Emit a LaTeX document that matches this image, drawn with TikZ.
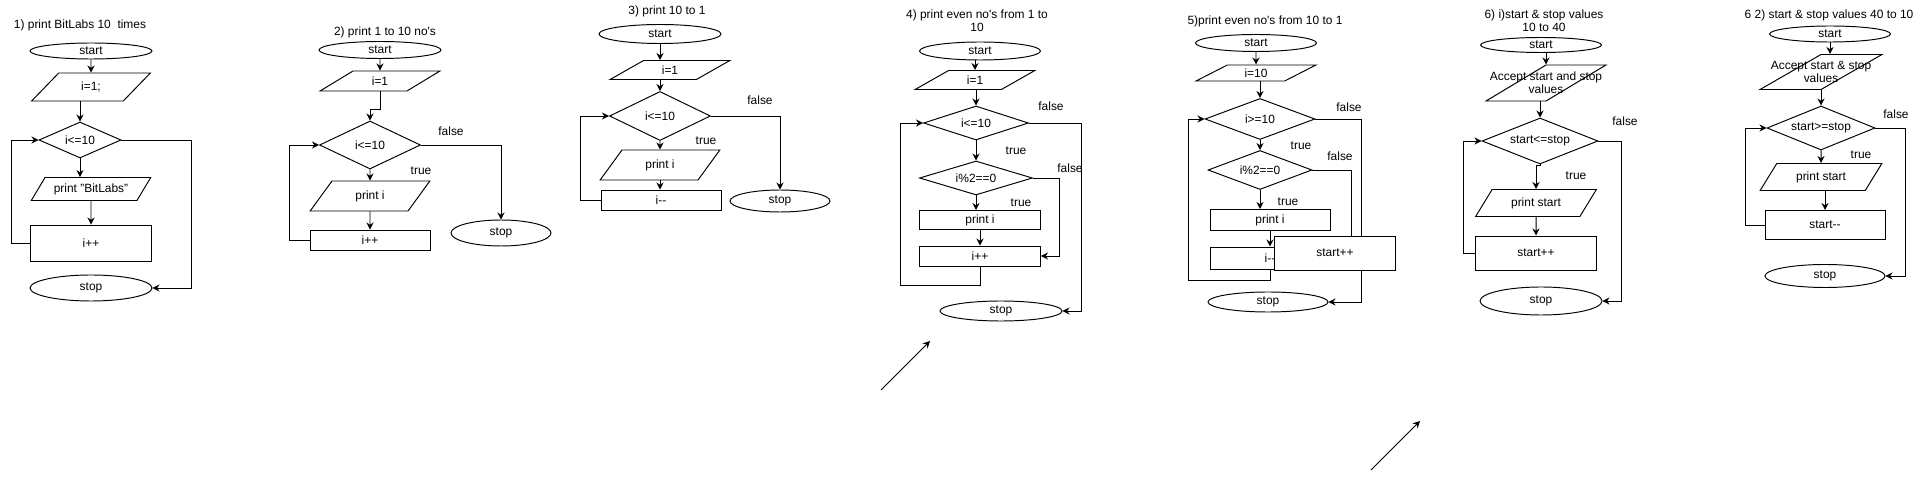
\documentclass[tikz,border=0pt]{standalone}
\usepackage{fontspec}
\setmainfont{Liberation Sans}
\usetikzlibrary{shapes.geometric, arrows.meta, positioning}

\begin{document}
\begin{tikzpicture}[x=0.02cm, y=-0.02cm, line width=0.55pt, >={Stealth[length=4pt,width=4pt]},
  font=\fontsize{6.8}{7.4}\selectfont,
  term/.style={ellipse, draw, inner sep=0pt},
  io/.style 2 args={trapezium, trapezium left angle=#1, trapezium right angle=#2, trapezium stretches=true, draw, inner sep=0pt},
  box/.style={rectangle, draw, inner sep=0pt},
  dec/.style={diamond, draw, aspect=2, inner sep=0pt},
  lbl/.style={inner sep=0pt, align=center}]
\useasboundingbox (0,0) rectangle (1931,479);

\node[lbl] (t1) at (80,25) {1) print BitLabs 10\ \ times};
\node[term, minimum width=2.44cm, minimum height=0.32cm] (s1) at (91,51) {start};
\node[io={51}{129}, minimum width=2.38cm, minimum height=0.56cm] (p1) at (91,87) {i=1;};
\node[dec, minimum width=1.64cm, minimum height=0.72cm] (d1) at (80,140) {i<=10};
\node[io={45}{135}, minimum width=2.4cm, minimum height=0.46cm] (o1) at (91,189) {print "BitLabs"};
\node[box, minimum width=2.42cm, minimum height=0.72cm] (b1) at (91,243) {i++};
\node[term, minimum width=2.44cm, minimum height=0.52cm] (e1) at (91,288) {stop};
\draw[->] (s1) -- (p1);
\draw[->] (p1.south -| d1.north) -- (d1.north);
\draw[->] (d1.south) -- (d1.south |- o1.north);
\draw[->] (o1) -- (b1);
\draw[->] (b1.west) -- ++(-19,0) |- (d1.west);
\draw[->] (d1.east) -- ++(70,0) |- (e1.east);

\node[lbl] (t2) at (385,32) {2) print 1 to 10 no\textquotesingle s};
\node[term, minimum width=2.44cm, minimum height=0.34cm] (s2) at (380,50) {start};
\node[io={41}{139}, minimum width=2.4cm, minimum height=0.4cm] (p2) at (380,81) {i=1};
\node[dec, minimum width=2.02cm, minimum height=0.96cm] (d2) at (370,145) {i<=10};
\node[io={53}{127}, minimum width=2.4cm, minimum height=0.6cm] (o2) at (370,196) {print i};
\node[box, minimum width=2.4cm, minimum height=0.4cm] (b2) at (370,240) {i++};
\node[term, minimum width=2cm, minimum height=0.52cm] (e2) at (501,233) {stop};
\node[lbl] (f2) at (451,131) {false};
\node[lbl] (r2) at (421,171) {true};
\draw[->] (s2) -- (p2);
\draw[->] (p2.south) -- ++(0,18) -| (d2.north);
\draw[->] (d2) -- (o2);
\draw[->] (o2) -- (b2);
\draw[->] (b2.west) -- ++(-20,0) |- (d2.west);
\draw[->] (d2.east) -| (e2.north);

\node[lbl] (t3) at (667,11) {3) print 10 to 1};
\node[term, minimum width=2.44cm, minimum height=0.38cm] (s3) at (660,34) {start};
\node[io={40}{140}, minimum width=2.4cm, minimum height=0.38cm] (p3) at (670,70) {i=1};
\node[dec, minimum width=2.02cm, minimum height=0.98cm] (d3) at (660,116) {i<=10};
\node[io={53}{127}, minimum width=2.4cm, minimum height=0.6cm] (o3) at (660,165) {print i};
\node[box, minimum width=2.4cm, minimum height=0.4cm] (b3) at (661,200) {i-{}-};
\node[term, minimum width=2cm, minimum height=0.44cm] (e3) at (780,201) {stop};
\node[lbl] (f3) at (760,100) {false};
\node[lbl] (r3) at (706,141) {true};
\draw[->] (s3.south) -- (s3.south |- p3.north);
\draw[->] (p3.south -| d3.north) -- (d3.north);
\draw[->] (d3) -- (o3);
\draw[->] (o3.south) -- (o3.south |- b3.north);
\draw[->] (b3.west) -- ++(-20,0) |- (d3.west);
\draw[->] (d3.east) -| (e3.north);

\node[lbl] (t4) at (977,21) {4) print even no\textquotesingle s from 1 to\\10};
\node[term, minimum width=2.42cm, minimum height=0.36cm] (s4) at (980,51) {start};
\node[io={40}{140}, minimum width=2.4cm, minimum height=0.38cm] (p4) at (975,80) {i=1};
\node[dec, minimum width=2.1cm, minimum height=0.68cm] (d4) at (976,123) {i<=10};
\node[dec, minimum width=2.26cm, minimum height=0.68cm] (g4) at (976,178) {i\%2==0};
\node[box, minimum width=2.42cm, minimum height=0.38cm] (o4) at (980,220) {print i};
\node[box, minimum width=2.42cm, minimum height=0.4cm] (b4) at (980,256) {i++};
\node[term, minimum width=2.44cm, minimum height=0.4cm] (e4) at (1001,311) {stop};
\node[lbl] (f4) at (1051,106) {false};
\node[lbl] (r4) at (1016,151) {true};
\node[lbl] (h4) at (1070,168) {false};
\node[lbl] (q4) at (1021,203) {true};
\draw[->] (s4.south -| p4.north) -- (p4.north);
\draw[->] (p4.south -| d4.north) -- (d4.north);
\draw[->] (d4) -- (g4);
\draw[->] (g4.south) -- (g4.south |- o4.north);
\draw[->] (o4) -- (b4);
\draw[->] (b4.south) -- ++(0,19) -- ++(-80,0) |- (d4.west);
\draw[->] (g4.east) -- ++(27,0) |- (b4.east);
\draw[->] (d4.east) -- ++(52,0) |- (e4.east);

\node[lbl] (t5) at (1265,21) {5)print even no\textquotesingle s from 10 to 1};
\node[term, minimum width=2.42cm, minimum height=0.34cm] (s5) at (1256,43) {start};
\node[io={35}{145}, minimum width=2.4cm, minimum height=0.32cm] (p5) at (1256,73) {i=10};
\node[dec, minimum width=2.2cm, minimum height=0.82cm] (d5) at (1260,119) {i>=10};
\node[dec, minimum width=2.08cm, minimum height=0.78cm] (g5) at (1260,170) {i\%2==0};
\node[box, minimum width=2.4cm, minimum height=0.42cm] (o5) at (1270,220) {print i};
\node[box, minimum width=2.4cm, minimum height=0.44cm] (b5) at (1270,258) {i-{}-};
\node[term, minimum width=2.4cm, minimum height=0.4cm] (e5) at (1268,302) {stop};
\node[lbl] (f5) at (1349,107) {false};
\node[lbl] (r5) at (1301,146) {true};
\node[lbl] (h5) at (1340,156) {false};
\node[lbl] (q5) at (1288,202) {true};
\draw[->] (s5) -- (p5);
\draw[->] (p5.south -| d5.north) -- (d5.north);
\draw[->] (d5) -- (g5);
\draw[->] (g5.south) -- (g5.south |- o5.north);
\draw[->] (o5) -- (b5);
\draw[->] (b5.south) -- ++(0,11) -- ++(-82,0) |- (d5.west);
\draw[->] (g5.east) -- ++(39,0) |- (b5.east);
\draw[->] (d5.east) -- ++(46,0) |- (e5.east);
\node[box, fill=white, minimum width=2.42cm, minimum height=0.68cm] (c5) at (1335,253) {start++};

\node[lbl] (t6) at (1544,21) {6) i)start \& stop values\\10 to 40};
\node[term, minimum width=2.42cm, minimum height=0.3cm] (s6) at (1541,45) {start};
\node[io={58}{122}, minimum width=2.4cm, minimum height=0.72cm] (p6) at (1546,83) {\strut};
\node[lbl] (a6) at (p6) {Accept start and stop\\values};
\node[dec, minimum width=2.32cm, minimum height=0.92cm] (d6) at (1540,141) {start<=stop};
\node[io={50}{130}, minimum width=2.42cm, minimum height=0.54cm] (o6) at (1536,203) {print start};
\node[box, minimum width=2.42cm, minimum height=0.68cm] (b6) at (1536,253) {start++};
\node[term, minimum width=2.44cm, minimum height=0.56cm] (e6) at (1541,301) {stop};
\node[lbl] (f6) at (1625,121) {false};
\node[lbl] (r6) at (1576,176) {true};
\draw[->] (s6.south -| p6.north) -- (p6.north);
\draw[->] (p6.south -| d6.north) -- (d6.north);
\draw[->] (d6.south) -- ++(0,1) -| (o6.north);
\draw[->] (o6) -- (b6);
\draw[->] (b6.west) -- ++(-12,0) |- (d6.west);
\draw[->] (d6.east) -- ++(23,0) |- (e6.east);

\node[lbl] (t7) at (1829,15) {6 2) start \& stop values 40 to 10};
\node[term, minimum width=2.42cm, minimum height=0.32cm] (s7) at (1830,34) {start};
\node[io={57}{123}, minimum width=2.44cm, minimum height=0.7cm] (p7) at (1821,72) {\strut};
\node[lbl] (a7) at (p7) {Accept start \& stop\\values};
\node[dec, minimum width=2.16cm, minimum height=0.88cm] (d7) at (1821,128) {start>=stop};
\node[io={50}{130}, minimum width=2.44cm, minimum height=0.54cm] (o7) at (1821,177) {print start};
\node[box, minimum width=2.4cm, minimum height=0.58cm] (b7) at (1825,225) {start-{}-};
\node[term, minimum width=2.4cm, minimum height=0.46cm] (e7) at (1825,276) {stop};
\node[lbl] (f7) at (1896,114) {false};
\node[lbl] (r7) at (1861,155) {true};
\draw[->] (s7.south) -- (s7.south |- p7.north);
\draw[->] (p7) -- (d7);
\draw[->] (d7) -- (o7);
\draw[->] (o7.south -| b7.north) -- (b7.north);
\draw[->] (b7.west) -- ++(-19,0) |- (d7.west);
\draw[->] (d7.east) -- ++(30,0) |- (e7.east);

\coordinate (u1) at (881,390);
\coordinate (v1) at (930,341);
\coordinate (u2) at (1371,470);
\coordinate (v2) at (1420,421);
\draw[->] (u1) -- (v1);
\draw[->] (u2) -- (v2);
\end{tikzpicture}
\end{document}
